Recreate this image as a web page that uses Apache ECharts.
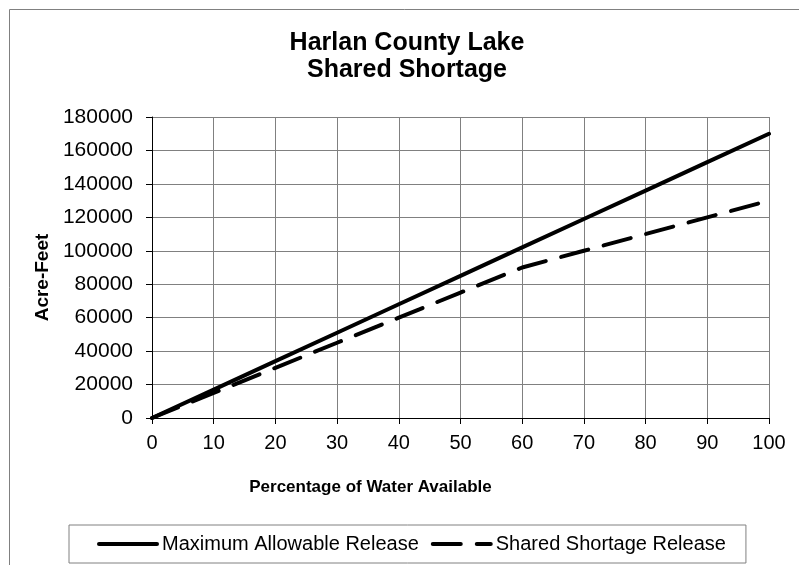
<!DOCTYPE html>
<html>
<head>
<meta charset="utf-8">
<title>Harlan County Lake Shared Shortage</title>
<script src="https://cdn.jsdelivr.net/npm/echarts@6/dist/echarts.min.js"></script>
<style>
  html, body { margin: 0; padding: 0; background: #fff; }
  #chart { width: 799px; height: 565px; }
</style>
</head>
<body>
<div id="chart"></div>
<script>
// percentage of water available (x)
const pct = [0, 10, 20, 30, 40, 50, 60, 70, 80, 90, 100];
// acre-feet
const maxRelease = [0, 17000, 34000, 51000, 68000, 85000, 102000, 119000, 136000, 153000, 170000];
const sharedRelease = [0, 15000, 30000, 45000, 60000, 75000, 90000, 100000, 110000, 120000, 130000];
const seriesNames = ["Maximum Allowable Release", "Shared Shortage Release"];

const font = "'Liberation Sans', Arial, sans-serif";
const myChart = echarts.init(document.getElementById("chart"));

myChart.setOption({
  animation: false,
  backgroundColor: "#fff",
  textStyle: { fontFamily: font, color: "#000" },
  graphic: [
    {
      type: "rect",
      shape: { x: 9.5, y: 9.5, width: 900, height: 900 },
      style: { fill: null, stroke: "#808080", lineWidth: 1 },
      silent: true,
    },
  ],
  title: {
    text: "Harlan County Lake\nShared Shortage",
    left: 407,
    top: 30,
    padding: 0,
    textAlign: "center",
    textStyle: {
      fontFamily: font,
      fontSize: 25,
      fontWeight: "bold",
      lineHeight: 27,
      color: "#000",
    },
  },
  grid: {
    left: 152,
    right: 30,
    top: 117,
    bottom: 147,
    containLabel: false,
  },
  xAxis: {
    type: "value",
    min: 0,
    max: 100,
    interval: 10,
    name: "Percentage of Water Available",
    nameLocation: "middle",
    nameGap: 61,
    nameTextStyle: {
      fontFamily: font,
      fontSize: 17,
      fontWeight: "bold",
      color: "#000",
      padding: [0, 180, 0, 0],
    },
    axisLine: { lineStyle: { color: "#000", width: 1 } },
    axisTick: { show: true, inside: false, length: 6, lineStyle: { color: "#000" } },
    axisLabel: { fontFamily: font, fontSize: 20, color: "#000", margin: 15 },
    splitLine: { show: true, lineStyle: { color: "#808080", width: 1 } },
  },
  yAxis: {
    type: "value",
    min: 0,
    max: 180000,
    interval: 20000,
    name: "Acre-Feet",
    nameLocation: "middle",
    nameGap: 100,
    nameTextStyle: {
      fontFamily: font,
      fontSize: 19,
      fontWeight: "bold",
      color: "#000",
      padding: [0, 20, 0, 0],
    },
    axisLine: { show: true, lineStyle: { color: "#000", width: 1 } },
    axisTick: { show: true, inside: false, length: 6, lineStyle: { color: "#000" } },
    axisLabel: {
      fontFamily: font,
      fontSize: 21,
      color: "#000",
      margin: 19,
      formatter: (v) => String(v),
    },
    splitLine: { show: true, lineStyle: { color: "#808080", width: 1 } },
  },
  legend: {
    data: seriesNames,
    left: 69,
    top: 525,
    padding: [9, 20, 9, 28],
    itemGap: 12,
    itemWidth: 58,
    itemHeight: 20,
    itemStyle: { opacity: 0 },
    lineStyle: { width: 4, cap: "round" },
    borderColor: "#808080",
    borderWidth: 1,
    borderRadius: 0,
    textStyle: { fontFamily: font, fontSize: 20, color: "#000" },
  },
  series: [
    {
      type: "line",
      name: seriesNames[0],
      data: pct.map((p, i) => [p, maxRelease[i]]),
      symbol: "none",
      lineStyle: { color: "#000", width: 4, cap: "round" },
      itemStyle: { color: "#000" },
    },
    {
      type: "line",
      name: seriesNames[1],
      data: pct.map((p, i) => [p, sharedRelease[i]]),
      symbol: "none",
      lineStyle: { color: "#000", width: 4, type: [28, 16], cap: "round" },
      itemStyle: { color: "#000" },
    },
  ],
});
</script>
</body>
</html>
